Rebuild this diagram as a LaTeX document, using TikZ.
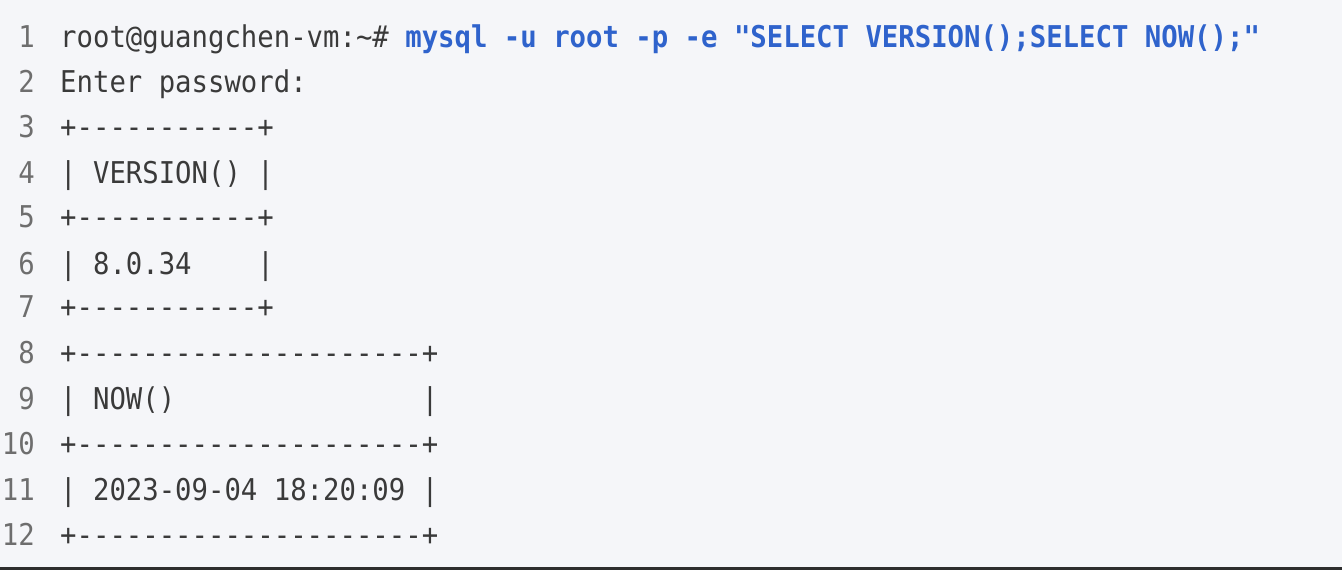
\documentclass[tikz,border=0pt]{standalone}
\usepackage{fontspec}
\newfontfamily\codefont[FakeStretch=0.91]{DejaVu Sans Mono}
\definecolor{bgc}{HTML}{F5F6F9}
\definecolor{txt}{HTML}{3A3A3A}
\definecolor{lnc}{HTML}{6E6E6E}
\definecolor{kwc}{HTML}{2F63CC}
\definecolor{rulec}{HTML}{2E2E2E}
\tikzset{
  codeline/.style={anchor=base west, inner sep=0pt, font=\codefont\fontsize{30}{30}\selectfont, text=txt},
  lineno/.style={anchor=base east, inner sep=0pt, font=\codefont\fontsize{30}{30}\selectfont, text=lnc},
}
\begin{document}
\begin{tikzpicture}[x=1pt,y=-1pt]
\useasboundingbox (0,0) rectangle (1342,570);
\fill[bgc] (0,0) rectangle (1342,570);
\fill[rulec] (0,566.5) rectangle (1342,570);
\foreach \i/\y in {1/47,2/92,3/137,4/183,5/227,6/274,7/317,8/363,9/409,10/454,11/500,12/545}{
  \node[lineno] (n\i) at (35,\y) {\i};
}
\node[codeline] (l1) at (60,47) {root@guangchen-vm:\textasciitilde\# \textcolor{kwc}{\bfseries mysql -u root -p -e "SELECT VERSION();SELECT NOW();"}};
\node[codeline] (l2) at (60,92) {Enter password:};
\node[codeline] (l3) at (60,137) {+-----------+};
\node[codeline] (l4) at (60,183) {| VERSION() |};
\node[codeline] (l5) at (60,227) {+-----------+};
\node[codeline] (l6) at (60,274) {| 8.0.34~~~~|};
\node[codeline] (l7) at (60,317) {+-----------+};
\node[codeline] (l8) at (60,363) {+---------------------+};
\node[codeline] (l9) at (60,409) {| NOW()~~~~~~~~~~~~~~~|};
\node[codeline] (l10) at (60,454) {+---------------------+};
\node[codeline] (l11) at (60,500) {| 2023-09-04 18:20:09 |};
\node[codeline] (l12) at (60,545) {+---------------------+};
\end{tikzpicture}
\end{document}
